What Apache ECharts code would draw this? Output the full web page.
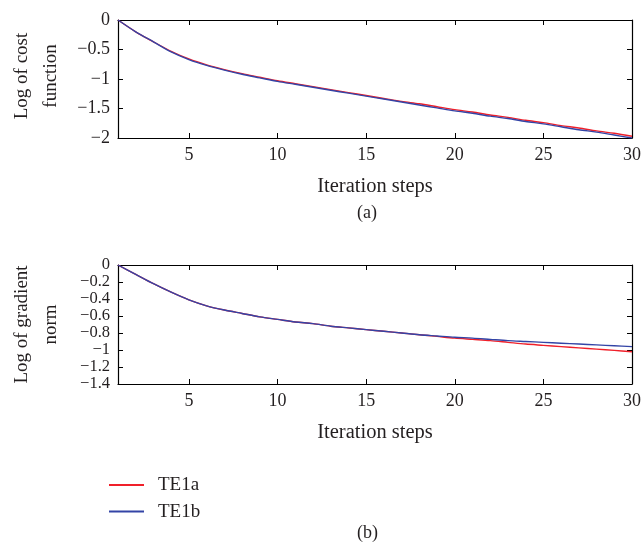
<!DOCTYPE html>
<html>
<head>
<meta charset="utf-8">
<script src="https://cdn.jsdelivr.net/npm/echarts@6/dist/echarts.min.js"></script>
<style>html,body{margin:0;padding:0;background:#fff}#c{width:644px;height:559px}</style>
</head>
<body>
<div id="c"></div>
<script>
const steps = Array.from({length: 30}, (_, i) => i + 1);
const xTicks = [5, 10, 15, 20, 25, 30];
const costTicks = [-2, -1.5, -1, -0.5, 0];
const gradTicks = [-1.4, -1.2, -1, -0.8, -0.6, -0.4, -0.2, 0];
const costTE1a = [0, -0.2, -0.37, -0.53, -0.66, -0.76, -0.84, -0.91, -0.97, -1.03, -1.08, -1.13, -1.18, -1.23, -1.28, -1.33, -1.38, -1.42, -1.47, -1.52, -1.56, -1.61, -1.65, -1.70, -1.74, -1.79, -1.83, -1.88, -1.92, -1.97];
const costTE1b = [0, -0.2, -0.37, -0.54, -0.67, -0.77, -0.85, -0.92, -0.98, -1.04, -1.09, -1.14, -1.19, -1.24, -1.29, -1.34, -1.39, -1.44, -1.49, -1.54, -1.58, -1.63, -1.67, -1.72, -1.76, -1.81, -1.86, -1.90, -1.95, -2.0];
const gradTE1a = [0, -0.11, -0.22, -0.32, -0.41, -0.48, -0.53, -0.57, -0.61, -0.64, -0.67, -0.69, -0.72, -0.74, -0.76, -0.78, -0.80, -0.82, -0.84, -0.86, -0.875, -0.89, -0.91, -0.93, -0.945, -0.96, -0.975, -0.99, -1.005, -1.02];
const gradTE1b = [0, -0.11, -0.22, -0.32, -0.41, -0.48, -0.53, -0.57, -0.61, -0.64, -0.67, -0.69, -0.72, -0.74, -0.76, -0.78, -0.80, -0.82, -0.835, -0.85, -0.86, -0.875, -0.89, -0.90, -0.91, -0.92, -0.93, -0.94, -0.95, -0.96];
const seriesNames = ['TE1a', 'TE1b'];
const colors = ['#f0202a', '#3344a6'];

const FONT = 'Liberation Serif';
const TXT = '#231f20';
const pair = (ys) => steps.map((x, i) => [x, ys[i]]);
const fmt = (v) => String(Math.round(v * 10) / 10).replace('-', '\u2212');

function xAxes(gi) {
  return [
    {
      gridIndex: gi, type: 'value', min: 1, max: 30,
      name: 'Iteration steps', nameLocation: 'middle', nameGap: 38,
      nameTextStyle: {fontFamily: FONT, fontSize: 20.5, color: TXT},
      axisLine: {show: true, onZero: false, lineStyle: {color: '#000', width: 1.2}},
      axisTick: {show: true, inside: true, length: 5, customValues: xTicks, lineStyle: {color: '#000'}},
      axisLabel: {show: true, customValues: xTicks, fontFamily: FONT, fontSize: 18, color: TXT, margin: 8},
      splitLine: {show: false}
    },
    {
      gridIndex: gi, type: 'value', min: 1, max: 30, position: 'top',
      axisLine: {show: true, onZero: false, lineStyle: {color: '#000', width: 1.2}},
      axisTick: {show: true, inside: true, length: 5, customValues: xTicks, lineStyle: {color: '#000'}},
      axisLabel: {show: false}, splitLine: {show: false}
    }
  ];
}
function yAxes(gi, min, ticks, name, shift, labelSize) {
  return [
    {
      gridIndex: gi, type: 'value', min: min, max: 0,
      name: name, nameLocation: 'middle', nameGap: 52, nameRotate: 90,
      nameTextStyle: {fontFamily: FONT, fontSize: 19, color: TXT, lineHeight: 29, padding: [0, 0, 0, shift]},
      axisLine: {show: true, onZero: false, lineStyle: {color: '#000', width: 1.2}},
      axisTick: {show: true, inside: true, length: 5, customValues: ticks, lineStyle: {color: '#000'}},
      axisLabel: {customValues: ticks, fontFamily: FONT, fontSize: labelSize, lineHeight: 15, color: TXT, margin: 8, formatter: fmt,
                  hideOverlap: false, showMinLabel: true, showMaxLabel: true},
      splitLine: {show: false}
    },
    {
      gridIndex: gi, type: 'value', min: min, max: 0, position: 'right',
      axisLine: {show: true, onZero: false, lineStyle: {color: '#000', width: 1.2}},
      axisTick: {show: true, inside: true, length: 5, customValues: ticks, lineStyle: {color: '#000'}},
      axisLabel: {show: false}, splitLine: {show: false}
    }
  ];
}

const chart = echarts.init(document.getElementById('c'), null, {renderer: 'canvas'});
const lineS = (name, data, xi, yi, color) => ({
  name, type: 'line', data, xAxisIndex: xi, yAxisIndex: yi, symbol: 'none', smooth: 0.3,
  lineStyle: {color, width: 1.4}, itemStyle: {color}, animation: false, z: name === 'TE1b' ? 3 : 2
});
chart.setOption({
  animation: false,
  backgroundColor: '#fff',
  grid: [
    {left: 105, top: 20, width: 529, height: 118},
    {left: 105, top: 265, width: 529, height: 119}
  ],
  xAxis: [...xAxes(0), ...xAxes(1)],
  yAxis: [...yAxes(0, -2, costTicks, 'Log of cost\nfunction', 6, 18), ...yAxes(1, -1.4, gradTicks, 'Log of gradient\nnorm', 0, 16.5)],
  legend: {
    data: seriesNames, orient: 'vertical', left: 104, top: 470,
    itemWidth: 35, itemHeight: 2, itemGap: 6.6, icon: 'rect',
    textStyle: {fontFamily: FONT, fontSize: 19, color: TXT, lineHeight: 20, padding: [0, 0, 0, 9]}
  },
  graphic: [
    {type: 'text', left: 357, top: 204, style: {text: '(a)', fontFamily: FONT, fontSize: 18, fill: TXT}},
    {type: 'text', left: 357, top: 524, style: {text: '(b)', fontFamily: FONT, fontSize: 18, fill: TXT}}
  ],
  series: [
    lineS(seriesNames[0], pair(costTE1a), 0, 0, colors[0]),
    lineS(seriesNames[1], pair(costTE1b), 0, 0, colors[1]),
    lineS(seriesNames[0], pair(gradTE1a), 2, 2, colors[0]),
    lineS(seriesNames[1], pair(gradTE1b), 2, 2, colors[1])
  ]
});
</script>
</body>
</html>
